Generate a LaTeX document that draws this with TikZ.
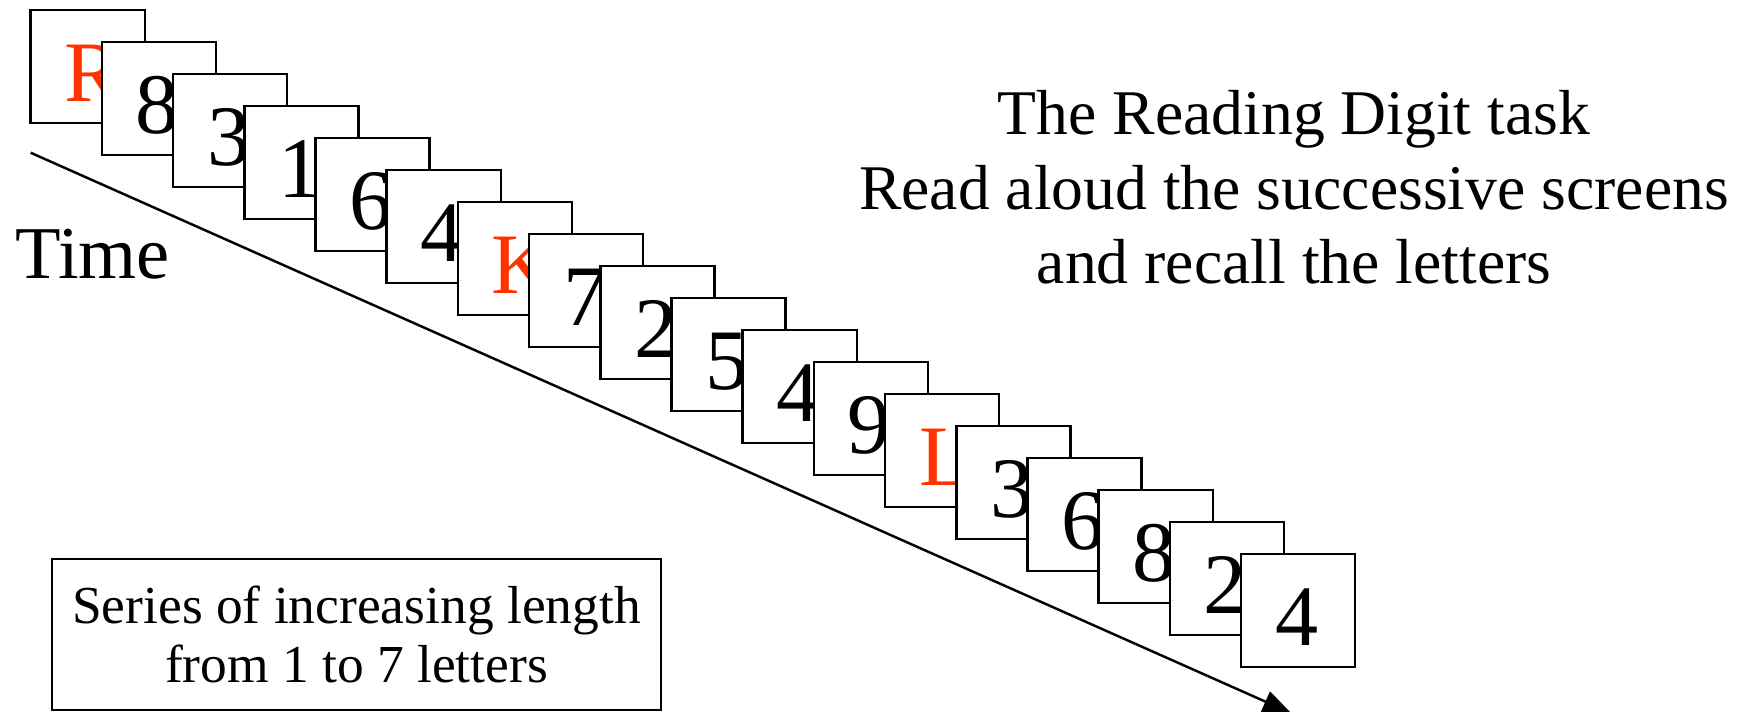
\documentclass[tikz,border=0pt]{standalone}
\usepackage{fontspec}
\setmainfont{Liberation Serif}
\usetikzlibrary{arrows.meta}
\definecolor{letterred}{RGB}{255,51,0}
\begin{document}
\begin{tikzpicture}[x=0.01cm, y=-0.01cm, line width=0.7pt,
  screen/.style={draw, fill=white, inner sep=0pt, minimum width=1.14cm,
    minimum height=1.13cm, text height=0.8cm, text depth=0.1cm,
    font=\fontsize{24.5}{28}\selectfont}]
  \useasboundingbox (0,0) rectangle (1746,711);

  % time axis
  \coordinate (t0) at (30.7,152.7);
  \coordinate (t1) at (1291,713);
  \draw[-{Triangle[length=0.28cm,width=0.22cm]}] (t0) -- (t1);
  \node[anchor=base west, inner sep=0pt, font=\fontsize{21.2}{24}\selectfont]
    (time) at (14,278) {Time};

  % screens
  \foreach \ch/\col [count=\i from 0] in {R/letterred,8/black,3/black,1/black,
      6/black,4/black,K/letterred,7/black,2/black,5/black,4/black,9/black,
      L/letterred,3/black,6/black,8/black,2/black,4/black} {
    \node[screen, text=\col] (s\i) at ({87.7+71.2*\i},{66.5+32*\i})
      {\makebox[0.46cm][l]{\ch}};
  }

  % task
  \node[align=center, inner sep=0pt, font=\fontsize{18.1}{21.2}\selectfont]
    (task) at (1294,187.6)
    {The Reading Digit task\\Read aloud the successive screens\\and recall the letters};

  % series
  \node[draw, align=center, inner sep=0pt, minimum width=6.09cm, minimum height=1.51cm,
    font=\fontsize{15.2}{16.8}\selectfont] (series) at (356.5,634.5)
    {Series of increasing length\\from 1 to 7 letters};
\end{tikzpicture}
\end{document}
